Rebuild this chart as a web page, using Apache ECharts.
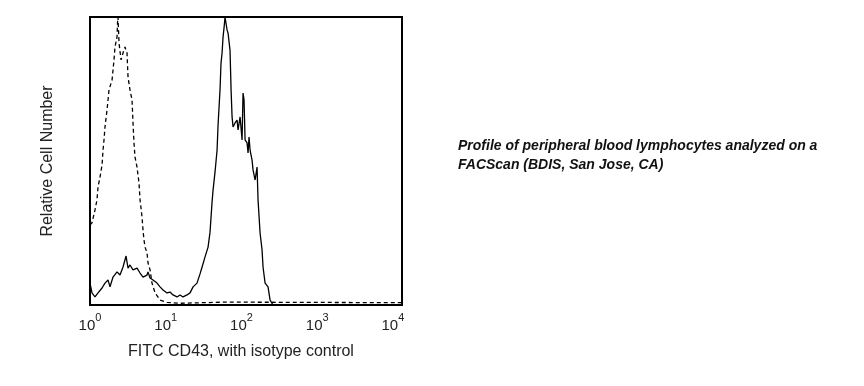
<!DOCTYPE html>
<html>
<head>
<meta charset="utf-8">
<script src="https://cdn.jsdelivr.net/npm/echarts@6/dist/echarts.min.js"></script>
<style>
html,body{margin:0;padding:0;background:#fff;}
#chart{width:864px;height:386px;}
</style>
</head>
<body>
<div id="chart"></div>
<script>
// Fluorescence in decades (log10), 10^0 .. 10^4
const tickDecades = [0, 1, 2, 3, 4];
const tickLabels = ['{b|10}{s|0}', '{b|10}{s|1}', '{b|10}{s|2}', '{b|10}{s|3}', '{b|10}{s|4}'];

// FITC CD43 (solid)
const cd43X = [0.000,0.026,0.066,0.106,0.159,0.198,0.238,0.264,0.304,0.357,0.396,0.436,0.476,0.502,0.528,0.568,0.621,0.661,0.700,0.753,0.766,0.793,0.832,0.885,0.925,0.964,1.017,1.057,1.096,1.149,1.189,1.229,1.281,1.321,1.361,1.413,1.453,1.480,1.519,1.559,1.585,1.612,1.625,1.651,1.678,1.691,1.717,1.730,1.744,1.757,1.770,1.783,1.810,1.823,1.849,1.863,1.876,1.889,1.915,1.942,1.955,1.982,2.008,2.021,2.034,2.048,2.074,2.087,2.100,2.114,2.140,2.153,2.180,2.206,2.219,2.246,2.272,2.285,2.312,2.351,2.378,2.417,4.12];
const cd43Y = [7.6,4.2,2.8,4.2,5.9,7.6,8.7,6.3,9.7,11.5,10.4,13.2,17.0,12.8,13.9,12.2,12.8,11.1,9.7,10.4,11.5,9.4,8.7,7.6,6.3,5.2,4.2,4.5,3.5,2.8,3.5,2.8,3.5,4.2,6.3,7.6,10.8,13.2,16.7,20.1,25.3,35.8,39.9,46.2,53.8,62.5,74.7,84.0,87.5,93.1,96.2,100,95.5,94.4,88.5,74.7,65.3,61.8,63.2,64.2,60.8,65.3,57.3,73.6,71.2,57.3,56.3,52.8,58.3,53.8,50.3,46.9,43.4,47.9,36.5,25.0,19.1,13.2,7.6,6.3,1.7,0,0];

// Isotype control (dashed)
const isoX = [0.000,0.026,0.066,0.092,0.106,0.132,0.159,0.172,0.185,0.198,0.225,0.238,0.251,0.291,0.304,0.317,0.330,0.357,0.363,0.370,0.383,0.410,0.436,0.462,0.489,0.502,0.528,0.555,0.568,0.581,0.594,0.621,0.647,0.661,0.687,0.700,0.713,0.727,0.753,0.766,0.793,0.819,0.859,0.925,1.017,1.189,1.783,4.12];
const isoY = [27.8,28.5,33.0,36.5,41.0,44.4,48.6,53.8,57.3,61.8,67.7,71.2,74.7,78.1,81.6,85.1,89.6,93.1,97.9,100,91.0,85.1,87.5,89.6,87.5,79.2,74.7,71.2,63.2,56.3,51.4,47.9,42.4,36.5,30.6,26.0,22.6,20.1,18.1,14.6,12.2,7.6,4.2,1.7,0.9,0.6,1.0,0.8];

const yLabel = 'Relative Cell Number';
const xLabel = 'FITC CD43, with isotype control';
const note = ['Profile of peripheral blood lymphocytes analyzed on a', 'FACScan (BDIS, San Jose, CA)'];

const zip = (xs, ys) => xs.map((x, i) => [x, ys[i]]);
const FONT = '"Liberation Sans", Arial, sans-serif';

const chart = echarts.init(document.getElementById('chart'), null, {renderer: 'canvas'});
chart.setOption({
  animation: false,
  backgroundColor: '#fff',
  grid: {left: 90, top: 17, width: 312, height: 288, show: true, borderColor: '#000', borderWidth: 2, backgroundColor: 'transparent'},
  xAxis: {
    type: 'value', min: 0, max: 4.12, interval: 1,
    axisLine: {show: false}, axisTick: {show: false}, splitLine: {show: false},
    axisLabel: {
      margin: 7,
      formatter: function (v) {
        const r = Math.round(v);
        const i = tickDecades.indexOf(r);
        if (Math.abs(v - r) > 1e-6 || i < 0) return '';
        return tickLabels[i];
      },
      color: '#222', fontFamily: FONT, fontSize: 15, lineHeight: 21, verticalAlign: 'top',
      rich: {
        b: {fontSize: 15, lineHeight: 21, verticalAlign: 'bottom', color: '#222', fontFamily: FONT},
        s: {fontSize: 11, lineHeight: 21, verticalAlign: 'top', color: '#222', fontFamily: FONT}
      }
    }
  },
  yAxis: {type: 'value', min: 0, max: 100, show: false, splitLine: {show: false}},
  series: [
    {type: 'line', data: zip(isoX, isoY), symbol: 'none', lineStyle: {color: '#000', width: 1.3, type: [4, 3]}, z: 3},
    {type: 'line', data: zip(cd43X, cd43Y), symbol: 'none', lineStyle: {color: '#000', width: 1.3}, z: 4}
  ],
  graphic: [
    {type: 'text', x: 241, y: 352, style: {text: xLabel, font: '16px ' + FONT, fill: '#222', textAlign: 'center', textVerticalAlign: 'middle'}},
    {type: 'text', x: 48, y: 161, rotation: Math.PI / 2, style: {text: yLabel, font: '16px ' + FONT, fill: '#222', textAlign: 'center', textVerticalAlign: 'middle'}},
    {type: 'text', x: 458, y: 146, style: {text: note[0], font: 'italic bold 14px ' + FONT, fill: '#111', textAlign: 'left', textVerticalAlign: 'middle'}},
    {type: 'text', x: 458, y: 165, style: {text: note[1], font: 'italic bold 14px ' + FONT, fill: '#111', textAlign: 'left', textVerticalAlign: 'middle'}}
  ]
});
</script>
</body>
</html>
